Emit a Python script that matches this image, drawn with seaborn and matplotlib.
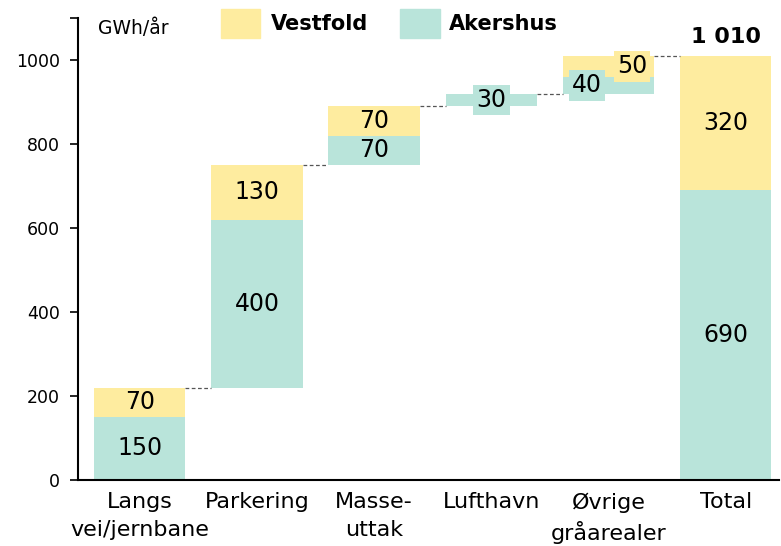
import numpy as np
import matplotlib
matplotlib.use('Agg')
import matplotlib.pyplot as plt
import seaborn as sns

# Data (GWh/år)
categories = ['Langs\nvei/jernbane', 'Parkering', 'Masse-\nuttak', 'Lufthavn', 'Øvrige\ngråarealer', 'Total']
akershus = [150, 400, 70, 30, 40, 690]
vestfold = [70, 130, 70, 0, 50, 320]
total_label = '1 010'

yellow = '#FEEC9F'
teal = '#B9E4DA'

sns.set_theme(style='ticks')
plt.rcParams['font.family'] = ['DejaVu Sans']
plt.rcParams['text.color'] = 'black'
plt.rcParams['xtick.color'] = 'black'
plt.rcParams['ytick.color'] = 'black'
plt.rcParams['xtick.labelcolor'] = 'black'
plt.rcParams['ytick.labelcolor'] = 'black'

fig = plt.figure(figsize=(7.81, 5.46), dpi=100)
ax = fig.add_axes([0.1, 0.121, 0.898, 0.846])

x = np.arange(len(categories))
width = 0.78

# cumulative bases for the waterfall
bases = []
running = 0
for i in range(len(categories)):
    if i == len(categories) - 1:
        bases.append(0)
    else:
        bases.append(running)
        running += akershus[i] + vestfold[i]

for i in range(len(categories)):
    b = bases[i]
    a = akershus[i]
    v = vestfold[i]
    ax.bar(x[i], a, bottom=b, width=width, color=teal, linewidth=0)
    if v > 0:
        ax.bar(x[i], v, bottom=b + a, width=width, color=yellow, linewidth=0)

# labels
lbl = dict(ha='center', va='center', fontsize=17, color='black')
for i in range(len(categories)):
    b = bases[i]
    a = akershus[i]
    v = vestfold[i]
    if a >= 70:
        ax.text(x[i], b + a / 2, str(a), **lbl)
    if v >= 70:
        ax.text(x[i], b + a + v / 2, str(v), **lbl)

# small segments get boxed labels
box_t = dict(boxstyle='square,pad=0.14', fc=teal, ec='none')
box_y = dict(boxstyle='square,pad=0.14', fc=yellow, ec='none')
ax.text(x[3], bases[3] + akershus[3] / 2, str(akershus[3]), bbox=box_t, **lbl)
ax.text(x[4] - 0.185, bases[4] + akershus[4] / 2, str(akershus[4]), bbox=box_t, **lbl)
ax.text(x[4] + 0.2, bases[4] + akershus[4] + vestfold[4] / 2, str(vestfold[4]), bbox=box_y, **lbl)

# total on top
ax.text(x[-1], akershus[-1] + vestfold[-1] + 22, total_label, ha='center', va='bottom',
        fontsize=16, fontweight='bold')

# dashed connectors
for i in range(len(categories) - 1):
    top = bases[i] + akershus[i] + vestfold[i]
    ax.plot([x[i] + width / 2, x[i + 1] - width / 2], [top, top],
            ls=(0, (3, 2)), color='#555555', lw=0.9)

ax.set_xlim(-0.526, 5.458)
ax.set_ylim(0, 1100)
ax.set_yticks([0, 200, 400, 600, 800, 1000, 1100])
ax.set_yticklabels(['0', '200', '400', '600', '800', '1000', ''], fontsize=12.5)
ax.set_xticks(x)
ax.set_xticklabels(categories, fontsize=16, linespacing=1.45)
ax.tick_params(axis='x', length=0, pad=9)
ax.tick_params(axis='y', length=6, width=1.2, pad=7)
for s in ['left', 'bottom']:
    ax.spines[s].set_linewidth(1.5)
    ax.spines[s].set_color('black')
sns.despine(ax=ax)

ax.text(-0.36, 1098, 'GWh/år', ha='left', va='top', fontsize=13.5)

# legend
fig.patches.append(plt.Rectangle((221 / 781, 1 - 38 / 546), 39 / 781, 29 / 546,
                                 transform=fig.transFigure, color=yellow))
fig.text(271 / 781, 1 - 24 / 546, 'Vestfold', fontsize=15, fontweight='bold', va='center')
fig.patches.append(plt.Rectangle((400 / 781, 1 - 38 / 546), 40 / 781, 29 / 546,
                                 transform=fig.transFigure, color=teal))
fig.text(449 / 781, 1 - 24 / 546, 'Akershus', fontsize=15, fontweight='bold', va='center')

fig.savefig('out.png', dpi=100)
